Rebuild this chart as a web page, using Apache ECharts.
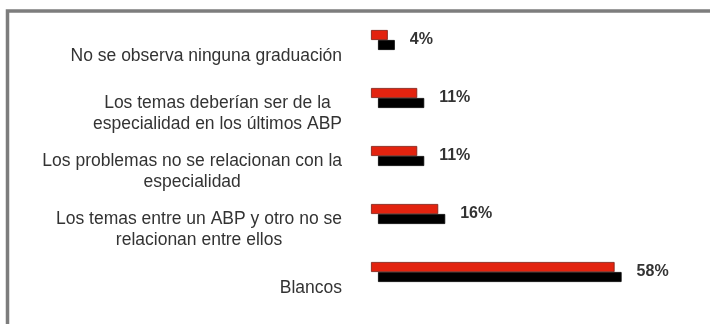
<!DOCTYPE html>
<html>
<head>
<meta charset="utf-8">
<script src="https://cdn.jsdelivr.net/npm/echarts@6/dist/echarts.min.js"></script>
<style>
  html, body { margin: 0; padding: 0; background: #fff; }
  #chart { width: 710px; height: 324px; }
</style>
</head>
<body>
<div id="chart"></div>
<script>
// Answer categories (top to bottom) and their share of responses in percent
const categories = [
  'No se observa ninguna graduación',
  'Los temas deberían ser de la\nespecialidad en los últimos ABP',
  'Los problemas no se relacionan con la\nespecialidad',
  'Los temas entre un ABP y otro no se\nrelacionan entre ellos',
  'Blancos'
];
const percentages = [4, 11, 11, 16, 58];

const chart = echarts.init(document.getElementById('chart'), null, { renderer: 'canvas' });

chart.setOption({
  animation: false,
  backgroundColor: '#ffffff',
  textStyle: { fontFamily: '"Liberation Sans", Arial, sans-serif' },
  graphic: [{
    // frame drawn along the left and top edges
    type: 'polyline',
    shape: { points: [[7.5, 324], [7.5, 11], [710, 11]] },
    style: { stroke: '#7d7d7d', lineWidth: 3.5, fill: null },
    silent: true
  }],
  grid: { left: 371, top: 6, width: 336, height: 290 },
  xAxis: {
    type: 'value',
    min: 0,
    max: 80,
    show: false
  },
  yAxis: {
    type: 'category',
    inverse: true,
    data: categories,
    axisLine: { show: false },
    axisTick: { show: false },
    splitLine: { show: false },
    axisLabel: {
      margin: 29,
      align: 'right',
      padding: [42, 0, 0, 0],
      formatter: function (v) {
        return v.split('\n').map(function (l) { return '{c|' + l + '}'; }).join('\n');
      },
      rich: {
        c: {
          align: 'center',
          fontSize: 17.5,
          lineHeight: 21,
          color: '#333333',
          fontFamily: '"Liberation Sans", Arial, sans-serif'
        }
      }
    }
  },
  series: [{
    type: 'bar',
    data: percentages,
    barWidth: 10,
    itemStyle: {
      color: '#e3230f',
      borderColor: '#7a1a10',
      borderWidth: 0.8,
      shadowColor: '#000000',
      shadowBlur: 0,
      shadowOffsetX: 7,
      shadowOffsetY: 10
    },
    label: {
      show: true,
      position: 'right',
      distance: 22,
      offset: [0, 5],
      formatter: '{c}%',
      fontSize: 16,
      fontWeight: 'bold',
      color: '#333333',
      fontFamily: '"Liberation Sans", Arial, sans-serif'
    }
  }]
});
</script>
</body>
</html>
